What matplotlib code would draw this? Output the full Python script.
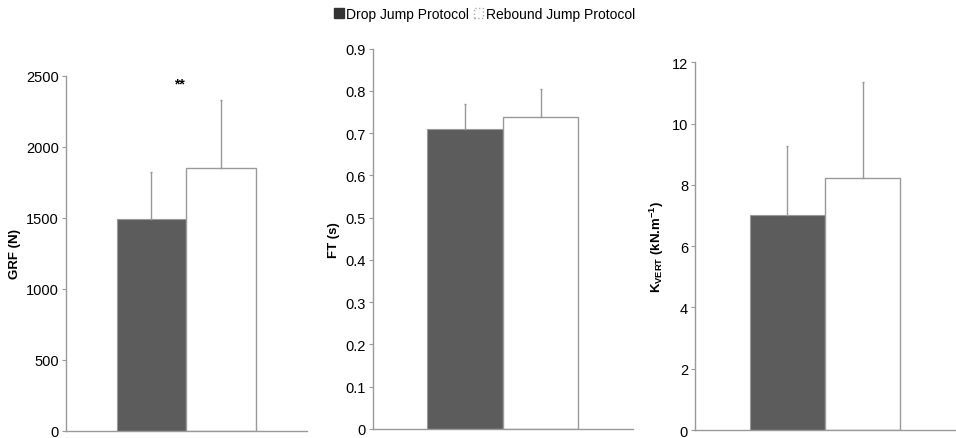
import numpy as np
import matplotlib.pyplot as plt
from matplotlib.patches import Patch

plt.rcParams['font.family'] = ['Liberation Sans', 'DejaVu Sans']

# Values (mean and upward SD for each protocol)
ylabels = ['GRF (N)', 'FT (s)', r'K$_{\mathregular{VERT}}$ (kN.m$^{\mathregular{-1}}$)']
drop_means = [1490, 0.71, 7.01]
drop_sd = [334, 0.06, 2.25]
rebound_means = [1850, 0.738, 8.22]
rebound_sd = [480, 0.067, 3.13]
ylims = [2500, 0.9, 12]
yticks = [np.arange(0, 2501, 500), np.round(np.arange(0, 0.91, 0.1), 1), np.arange(0, 13, 2)]
ytick_labels = [[str(v) for v in yticks[0]],
                ['0'] + [f'{v:.1f}' for v in yticks[1][1:]],
                [str(v) for v in yticks[2]]]

dark = '#5c5c5c'
gray = '#9a9a9a'

fig = plt.figure(figsize=(9.56, 4.39), dpi=100)
boxes = [[0.069, 0.016, 0.252, 0.809],
         [0.390, 0.021, 0.272, 0.866],
         [0.727, 0.018, 0.272, 0.838]]

w = 0.29
for i, box in enumerate(boxes):
    ax = fig.add_axes(box)
    ax.bar(-w / 2, drop_means[i], width=w, color=dark, edgecolor=gray, linewidth=0.8)
    ax.bar(w / 2, rebound_means[i], width=w, color='white', edgecolor=gray, linewidth=1.0)
    ax.errorbar([-w / 2, w / 2], [drop_means[i], rebound_means[i]],
                yerr=[[0, 0], [drop_sd[i], rebound_sd[i]]],
                fmt='none', ecolor=gray, elinewidth=1.0, capsize=1)
    ax.set_xlim(-0.5, 0.5)
    ax.set_ylim(0, ylims[i])
    ax.set_xticks([])
    ax.set_yticks(yticks[i])
    ax.set_yticklabels(ytick_labels[i])
    ax.tick_params(axis='y', direction='out', length=3, width=0.8, color=gray,
                   labelsize=10.5, pad=2)
    for s in ['top', 'right']:
        ax.spines[s].set_visible(False)
    for s in ['left', 'bottom']:
        ax.spines[s].set_color(gray)
        ax.spines[s].set_linewidth(1.0)
    ax.set_ylabel(ylabels[i], fontsize=9.5, fontweight='bold', labelpad=4)
    if i == 0:
        ax.text(-0.03, 2444, '**', ha='center', va='center', fontsize=10, fontweight='bold')

handles = [Patch(facecolor='#333333', edgecolor='#333333'),
           Patch(facecolor='white', edgecolor='#aaaaaa', linestyle=':')]
fig.legend(handles, ['Drop Jump Protocol', 'Rebound Jump Protocol'],
           loc='center', bbox_to_anchor=(0.507, 0.966), ncol=2, frameon=False,
           fontsize=10, handlelength=0.7, handleheight=0.7, handletextpad=0.2,
           columnspacing=0.3)

fig.savefig('out.png', dpi=100)
